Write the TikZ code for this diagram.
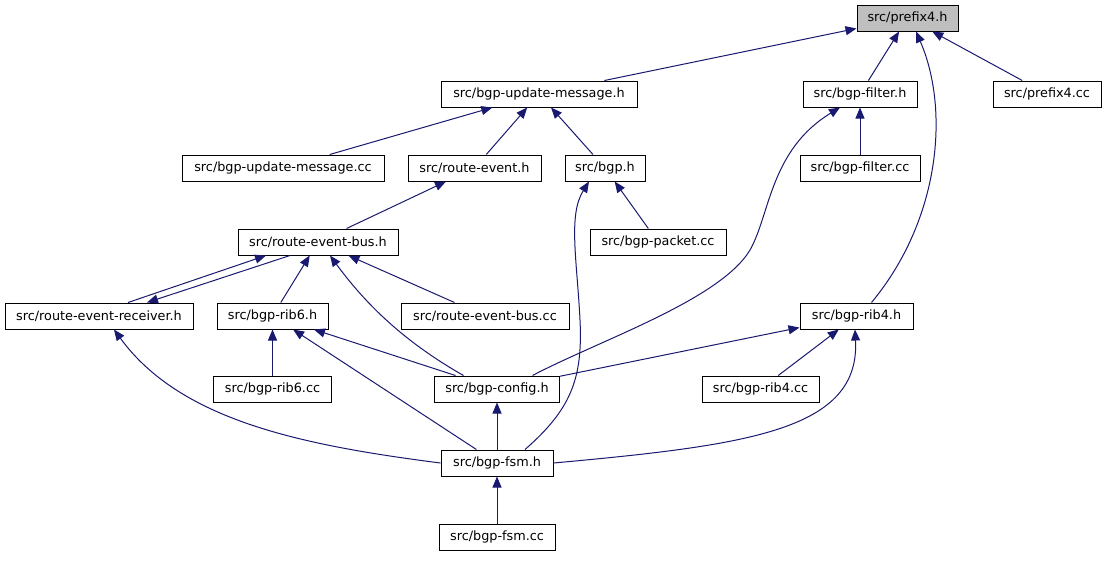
\documentclass[tikz,border=0pt]{standalone}
\usepackage{fontspec}
\setmainfont{DejaVu Sans}
\usetikzlibrary{arrows.meta}
\definecolor{edgeblue}{HTML}{191970}
\definecolor{rootgray}{HTML}{BFBFBF}
\tikzset{
  box/.style={draw=black, line width=1pt, fill=white, inner sep=0pt,
    minimum height=26pt, font=\fontsize{12.8}{15}\selectfont, text=black},
  rootbox/.style={box, fill=rootgray},
  edge/.style={draw=edgeblue, line width=1pt,
    -{Triangle[length=11pt,width=9pt,fill=edgeblue]}},
}
\begin{document}
\begin{tikzpicture}[x=1pt,y=-1pt]
\useasboundingbox[fill=white] (0,0) rectangle (1107,560);
% nodes
\node[rootbox, minimum width=101pt] (p4) at (907.5,18) {src/prefix4.h};
\node[box, minimum width=196pt] (um) at (539,94) {src/bgp-update-message.h};
\node[box, minimum width=114pt] (filter) at (860,94) {src/bgp-filter.h};
\node[box, minimum width=108pt] (p4cc) at (1047,94) {src/prefix4.cc};
\node[box, minimum width=202pt] (umcc) at (283,168) {src/bgp-update-message.cc};
\node[box, minimum width=133pt] (re) at (474.5,168) {src/route-event.h};
\node[box, minimum width=80pt] (bgph) at (605,168) {src/bgp.h};
\node[box, minimum width=120pt] (filtercc) at (860,168) {src/bgp-filter.cc};
\node[box, minimum width=160pt] (bus) at (318,242) {src/route-event-bus.h};
\node[box, minimum width=136pt] (packet) at (658,242) {src/bgp-packet.cc};
\node[box, minimum width=188pt] (recv) at (99,316) {src/route-event-receiver.h};
\node[box, minimum width=111pt] (rib6) at (272.5,316) {src/bgp-rib6.h};
\node[box, minimum width=168pt] (buscc) at (485,316) {src/route-event-bus.cc};
\node[box, minimum width=113pt] (rib4) at (856.5,316) {src/bgp-rib4.h};
\node[box, minimum width=118pt] (rib6cc) at (272.5,389) {src/bgp-rib6.cc};
\node[box, minimum width=125pt] (config) at (497,389) {src/bgp-config.h};
\node[box, minimum width=117pt] (rib4cc) at (760.5,389) {src/bgp-rib4.cc};
\node[box, minimum width=112pt] (fsm) at (497,463) {src/bgp-fsm.h};
\node[box, minimum width=116pt] (fsmcc) at (497,537) {src/bgp-fsm.cc};
% straight edges (child -> parent)
\draw[edge] (um) -- (p4);
\draw[edge] (filter) -- (p4);
\draw[edge] (p4cc) -- (p4);
\draw[edge] (umcc) -- (um);
\draw[edge] (re) -- (um);
\draw[edge] (bgph) -- (um);
\draw[edge] (filtercc) -- (filter);
\draw[edge] (bus) -- (re);
\draw[edge] (packet) -- (bgph);
\draw[edge] (rib6) -- (bus);
\draw[edge] (buscc) -- (bus);
\draw[edge] (rib6cc) -- (rib6);
\draw[edge] (config) -- (rib6);
\draw[edge] (fsm) -- (rib6);
\draw[edge] (config) -- (rib4);
\draw[edge] (rib4cc) -- (rib4);
\draw[edge] (fsm) -- (config);
\draw[edge] (fsmcc) -- (fsm);
% double edge receiver <-> bus
\draw[edge] ([xshift=29pt]recv.north) -- ([xshift=-52pt]bus.south);
\draw[edge] ([xshift=-28pt]bus.south) -- ([xshift=48pt]recv.north);
% curved edges
\draw[edge] ([xshift=15pt]rib4.north) .. controls (940,220) and (950,110) .. ([xshift=8.5pt]p4.south);
\draw[edge] ([xshift=28pt]fsm.north) .. controls (570,410) and (583,380) .. (580,320)
  .. controls (577,260) and (568,215) .. ([xshift=-16pt]bgph.south);
\draw[edge] ([xshift=-33.5pt]config.north) .. controls (410,345) and (370,310) .. ([xshift=12pt]bus.south);
\draw[edge] ([xshift=35.5pt]config.north) .. controls (600,340) and (720,300) .. (750,250)
  .. controls (770,215) and (770,150) .. ([xshift=-20pt]filter.south);
\draw[edge] (fsm.west) .. controls (300,445) and (180,420) .. ([xshift=15pt]recv.south);
\draw[edge] (fsm.east) .. controls (750,445) and (860,430) .. ([xshift=-1.5pt]rib4.south);
\end{tikzpicture}
\end{document}
